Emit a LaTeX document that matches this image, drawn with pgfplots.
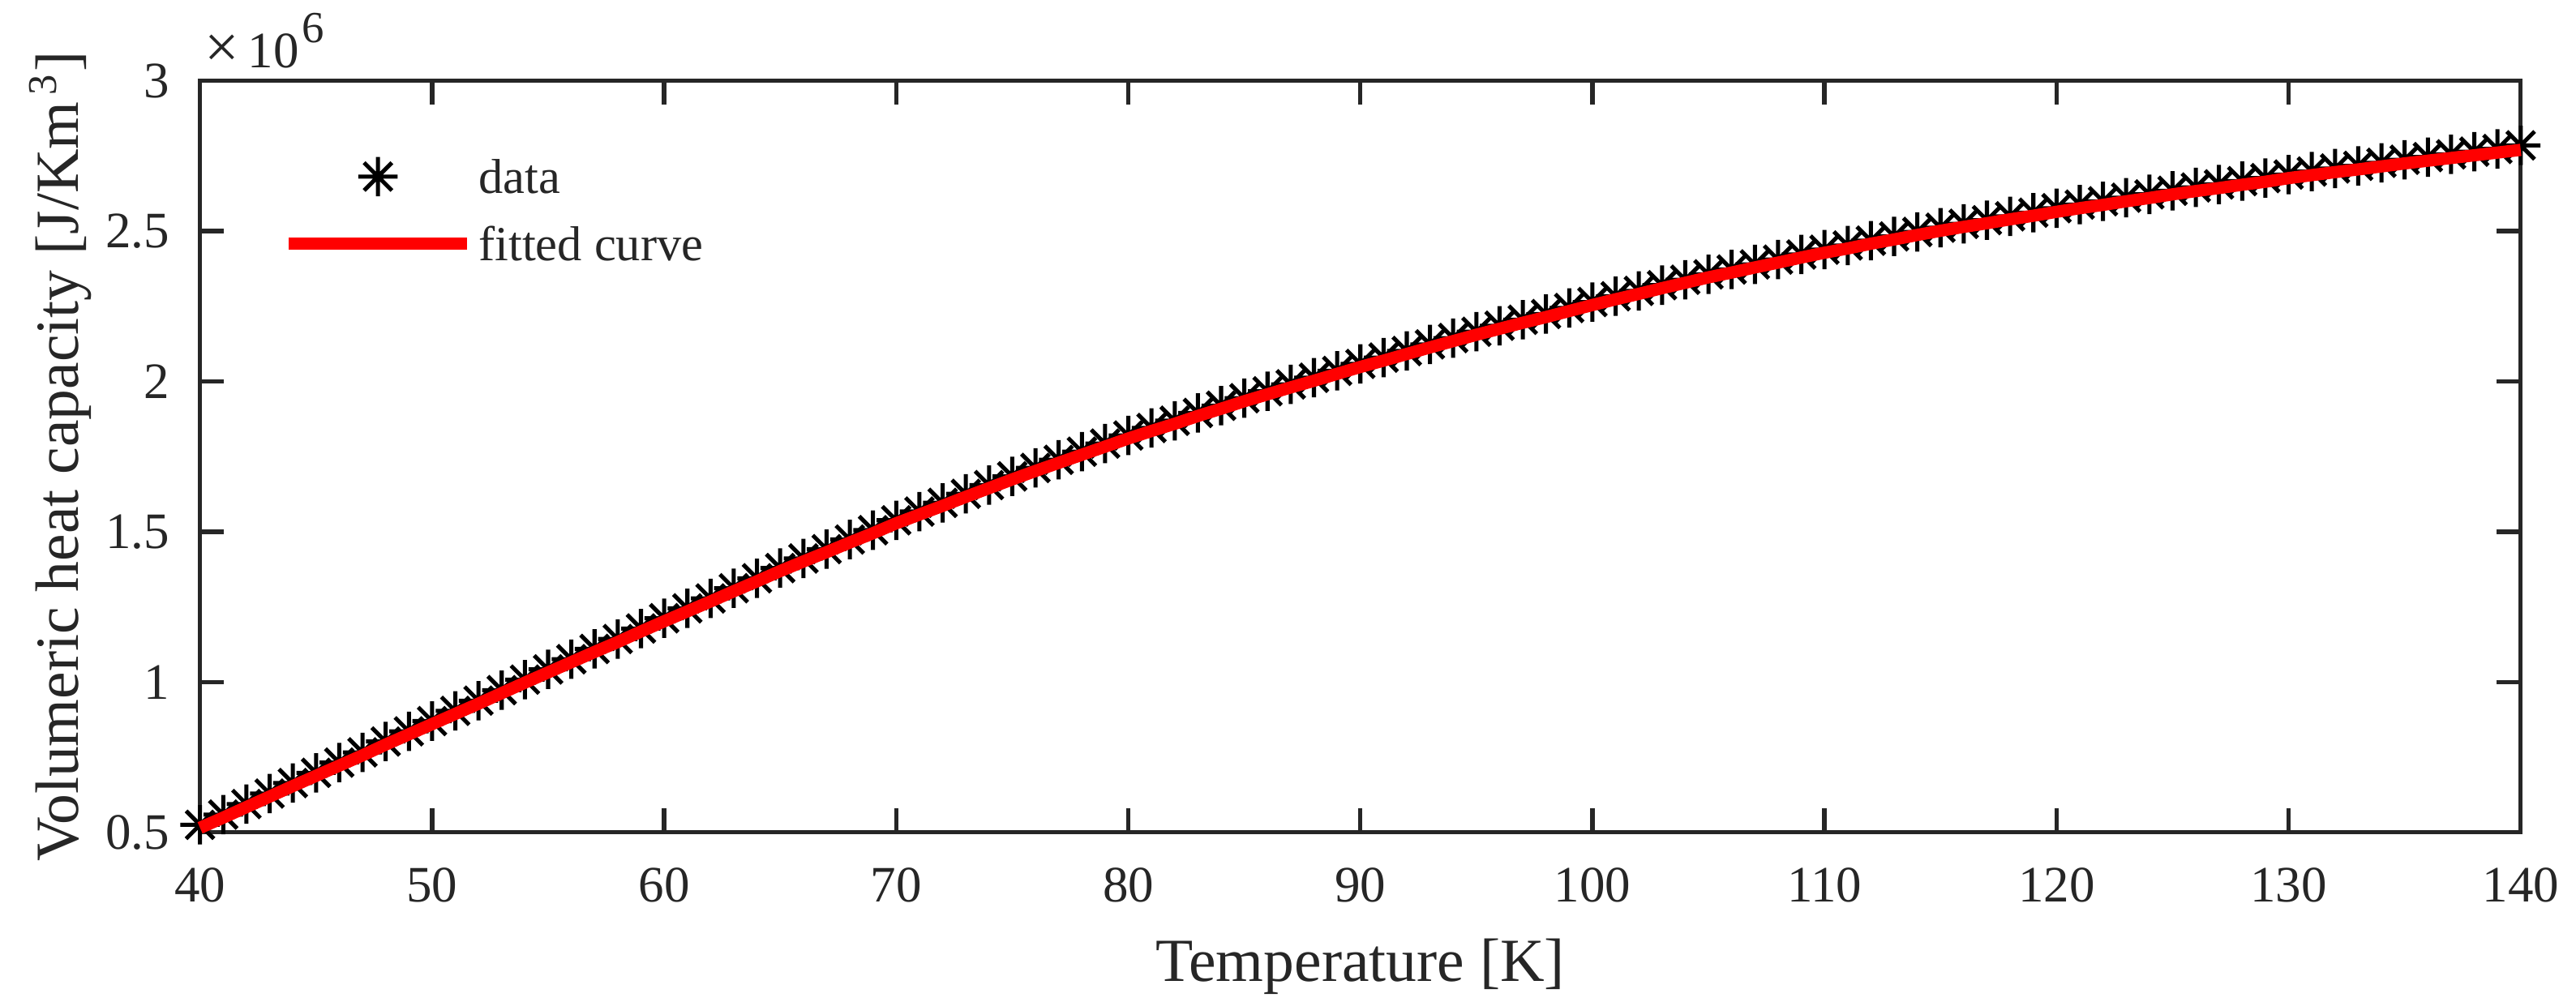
\documentclass[border=0pt]{standalone}
\usepackage{fontspec}
\setmainfont{Liberation Serif}
\usepackage{pgfplots}
\pgfplotsset{compat=1.18}
\usepackage{pgfplotstable}
\definecolor{axgray}{RGB}{38,38,38}
\pgfdeclareplotmark{mstar}{%
  \pgfpathmoveto{\pgfqpoint{0pt}{\pgfplotmarksize}}%
  \pgfpathlineto{\pgfqpoint{0pt}{-\pgfplotmarksize}}%
  \pgfpathmoveto{\pgfqpoint{\pgfplotmarksize}{0pt}}%
  \pgfpathlineto{\pgfqpoint{-\pgfplotmarksize}{0pt}}%
  \pgfpathmoveto{\pgfqpoint{0.7071\pgfplotmarksize}{0.7071\pgfplotmarksize}}%
  \pgfpathlineto{\pgfqpoint{-0.7071\pgfplotmarksize}{-0.7071\pgfplotmarksize}}%
  \pgfpathmoveto{\pgfqpoint{-0.7071\pgfplotmarksize}{0.7071\pgfplotmarksize}}%
  \pgfpathlineto{\pgfqpoint{0.7071\pgfplotmarksize}{-0.7071\pgfplotmarksize}}%
  \pgfusepathqstroke}
\pgfplotsset{
  starlegend/.style={legend image code/.code={\path[draw=none] (0pt,0pt) -- (35pt,0pt); \draw[##1] plot coordinates {(17.5pt,0pt)};}},
  linelegend/.style={legend image code/.code={\draw[##1] (0pt,0pt) -- (35pt,0pt);}},
}
\pgfplotstableread{
T data fit
40 525000 515000
41 559000 549000
42 594000 584000
43 629000 619000
44 664000 654000
45 698000 688000
46 732000 722000
47 766000 756000
48 802000 792000
49 836000 826000
50 870000 860000
51 904000 894000
52 938000 928000
53 973000 963000
54 1008000 998000
55 1042000 1032000
56 1076000 1066000
57 1110000 1100000
58 1143000 1133000
59 1178000 1168000
60 1212000 1202000
61 1245000 1235000
62 1278000 1268000
63 1312000 1302000
64 1345000 1335000
65 1379000 1369000
66 1411000 1401000
67 1442000 1432000
68 1474000 1464000
69 1505000 1495000
70 1538000 1528000
71 1567000 1557000
72 1596000 1586000
73 1626000 1616000
74 1655000 1645000
75 1684000 1674000
76 1712000 1702000
77 1739000 1729000
78 1766000 1756000
79 1793000 1783000
80 1820000 1810000
81 1845000 1835000
82 1869000 1859000
83 1895000 1885000
84 1919000 1909000
85 1944000 1934000
86 1967000 1957000
87 1990000 1980000
88 2012000 2002000
89 2035000 2025000
90 2058000 2048000
91 2079000 2069000
92 2101000 2091000
93 2123000 2113000
94 2144000 2134000
95 2165000 2155000
96 2185000 2175000
97 2205000 2195000
98 2224000 2214000
99 2244000 2234000
100 2264000 2254000
101 2283000 2273000
102 2301000 2291000
103 2320000 2310000
104 2338000 2328000
105 2356000 2346000
106 2372000 2362000
107 2389000 2379000
108 2405000 2395000
109 2422000 2412000
110 2438000 2428000
111 2452000 2442000
112 2468000 2458000
113 2482000 2472000
114 2497000 2487000
115 2511000 2501000
116 2524000 2514000
117 2536000 2526000
118 2549000 2539000
119 2561000 2551000
120 2576000 2564000
121 2588000 2576000
122 2599000 2587000
123 2611000 2599000
124 2622000 2610000
125 2634000 2622000
126 2645000 2633000
127 2655000 2643000
128 2666000 2654000
129 2676000 2664000
130 2688000 2676000
131 2698000 2686000
132 2708000 2696000
133 2717000 2705000
134 2727000 2715000
135 2737000 2725000
136 2746000 2734000
137 2755000 2743000
138 2764000 2752000
139 2773000 2761000
140 2785000 2770000
}\cvdata
\begin{document}
\begin{tikzpicture}
\useasboundingbox (-39.16pt,-33.22pt) rectangle (465.13pt,162.97pt);
\begin{axis}[
  at={(0pt,0pt)}, anchor=south west,
  scale only axis,
  width=454.3pt, height=147.17pt,
  xmin=40, xmax=140, ymin=500000, ymax=3000000,
  xtick={40,50,...,140},
  xticklabels={40,50,60,70,80,90,100,110,120,130,140},
  ytick={500000,1000000,1500000,2000000,2500000,3000000},
  yticklabels={0.5,1,1.5,2,2.5,3},
  scaled x ticks=false, scaled y ticks=false,
  minor tick num=0,
  clip=false,
  clip marker paths=true,
  axis line style={draw=axgray, line width=0.85pt},
  every tick/.style={draw=axgray, line width=0.85pt},
  major tick length=4.7pt,
  tick align=inside,
  xticklabel style={font=\fontsize{10}{12}\selectfont, text=axgray, inner sep=0pt, anchor=north, yshift=-6.8pt},
  yticklabel style={font=\fontsize{10}{12}\selectfont, text=axgray, inner sep=0pt, anchor=east, xshift=-5.8pt},
  xlabel={Temperature [K]},
  ylabel={Volumeric heat capacity [J/Km\textsuperscript{\,3}]},
  every axis x label/.style={at={(axis description cs:0.5,-0.1977)}, anchor=base, font=\fontsize{12}{14}\selectfont, text=axgray, inner sep=0pt},
  every axis y label/.style={at={(axis description cs:-0.0524,0.5)}, rotate=90, anchor=base, font=\fontsize{12}{14}\selectfont, text=axgray, inner sep=0pt},
  legend style={draw=none, fill=none, at={(axis description cs:0.0351,0.9)}, anchor=north west, inner sep=0pt, row sep=6.0pt, column sep=1.0pt, font=\fontsize{9.6}{11}\selectfont, text=axgray, nodes={inner sep=0pt, text height=6.6pt, text depth=0pt}},
  legend cell align=left,
]
\addplot[only marks, mark=mstar, mark size=3.85pt, black, line width=0.8pt, starlegend]
  table[x=T,y=data]{\cvdata};
\addlegendentry{data}
\addplot[no marks, color=red, line width=2.4pt, linelegend]
  table[x=T,y=fit]{\cvdata};
\addlegendentry{fitted curve}
\node[anchor=base west, inner sep=0pt, text=axgray, xshift=0.8pt, yshift=2.6pt] at (rel axis cs:0,1)
  {{\fontsize{12}{14}\selectfont ×}\hspace{1.6pt}{\fontsize{10}{12}\selectfont 10}\raisebox{4.8pt}{\fontsize{8.7}{10}\selectfont\hspace{0.6pt}6}};
\end{axis}
\end{tikzpicture}
\end{document}
